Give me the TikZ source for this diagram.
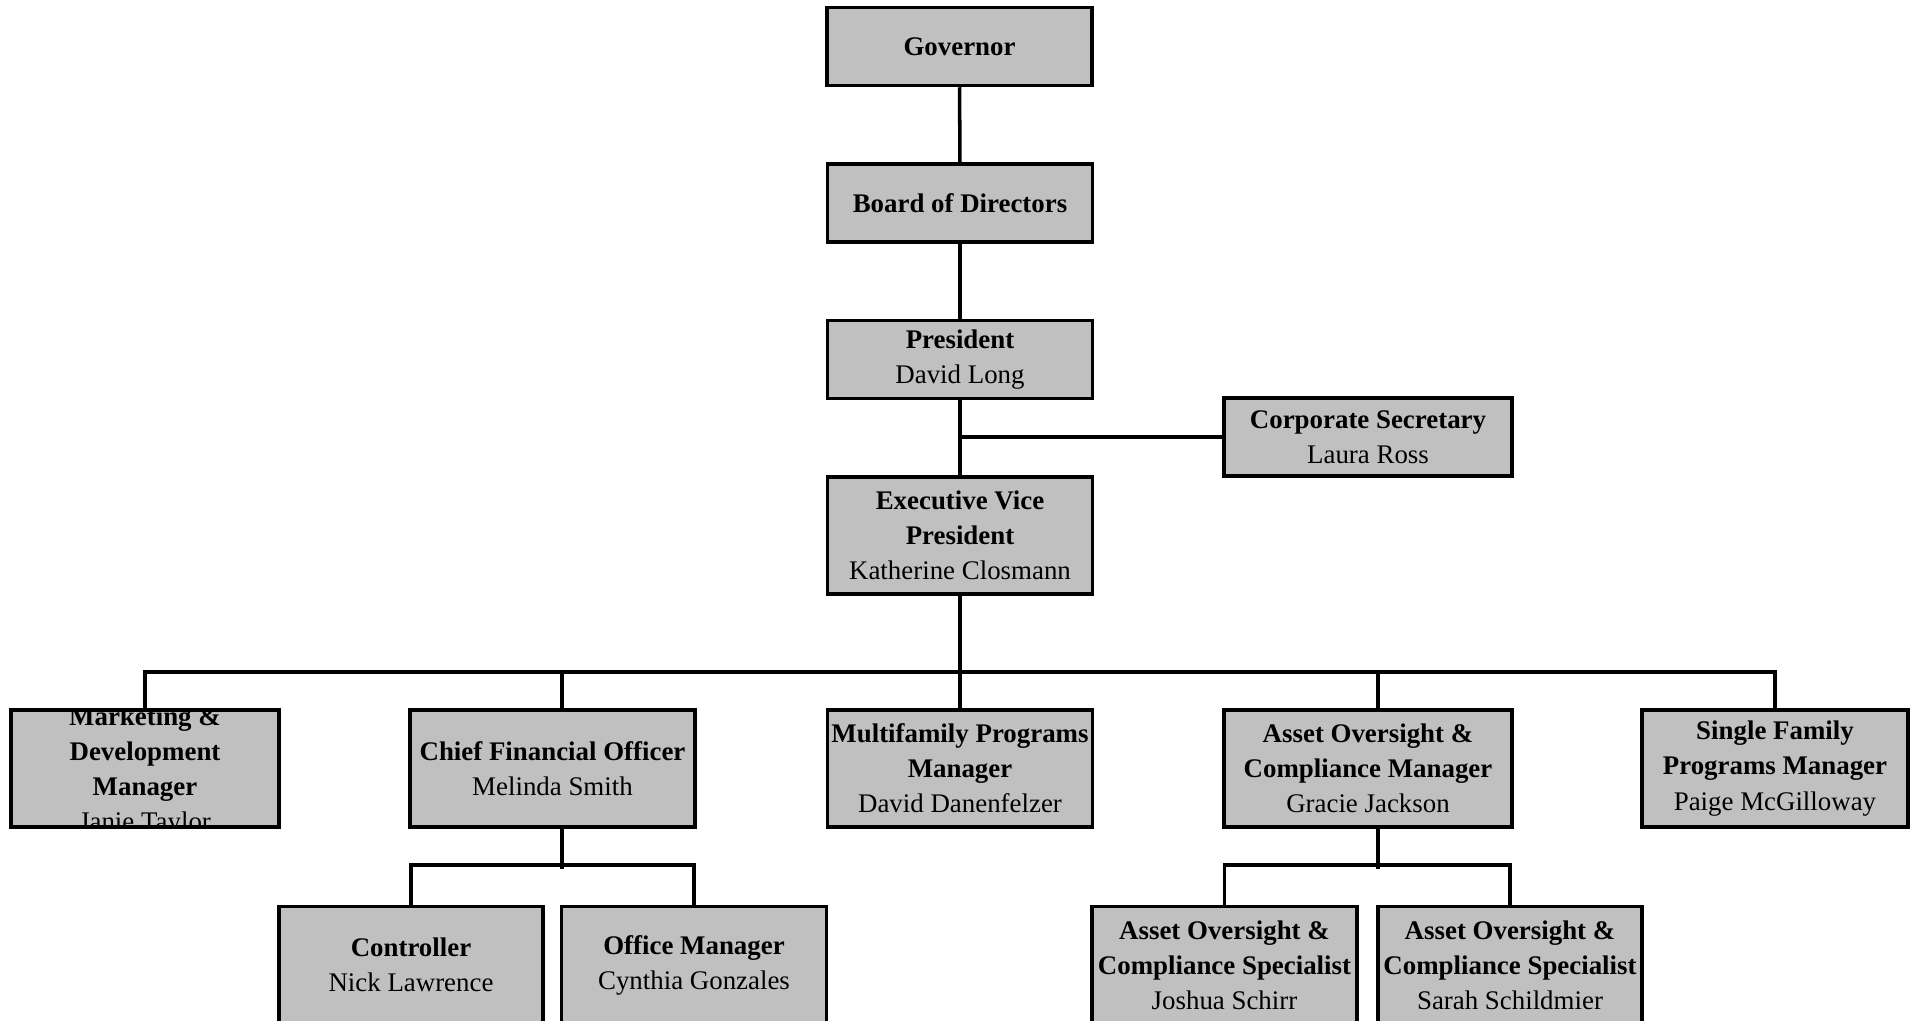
\documentclass[tikz,border=0pt]{standalone}
\usepackage{fontspec}
\setmainfont{Liberation Serif}
\usepackage{tikz}
\usetikzlibrary{calc}
\definecolor{BoxGray}{RGB}{192,192,192}
\tikzset{
    block/.style = {draw, rectangle, fill=BoxGray, line width=2pt,
        inner sep=0pt, align=center,
        font=\fontsize{15.3}{20}\selectfont,
        minimum height=1.56cm,
        minimum width=5.3cm},
    tall/.style = {minimum height=2.34cm},
    wide/.style = {minimum width=5.76cm},
    link/.style = {draw, line width=2pt}
}

\begin{document}
\begin{tikzpicture}[x=0.02cm,y=-0.02cm]
            \useasboundingbox (0,0) rectangle (1918,1021);
            % top chain
            \node[block] (gov) at (959.5,46.5) {\textbf{Governor}};
            \node[block] (board) at (960,203) {\textbf{Board of Directors}};
            \node[block] (pres) at (960,359.5) {\textbf{President}\\David Long};
            \node[block,wide] (sec) at (1368,437) {\textbf{Corporate Secretary}\\Laura Ross};
            \node[block,tall] (evp) at (960,535.5) {\textbf{Executive Vice}\\\textbf{President}\\Katherine Closmann};
            % managers
            \node[block,tall,minimum width=5.36cm] (mkt) at (145,768.5) {};
            \begin{scope}
            \clip (13,712) rectangle (277,825);
            \node[align=center,font=\fontsize{15.3}{20}\selectfont] at ($(mkt.center)+(0,3)$) {\textbf{Marketing \&}\\\textbf{Development}\\\textbf{Manager}\\Janie Taylor};
            \end{scope}
            \node[block,tall,minimum width=5.7cm] (cfo) at (552.5,768.5) {\textbf{Chief Financial Officer}\\Melinda Smith};
            \node[block,tall] (mf) at (960,768.5) {\textbf{Multifamily Programs}\\\textbf{Manager}\\David Danenfelzer};
            \node[block,tall,wide] (aoc) at (1368,768.5) {\textbf{Asset Oversight \&}\\\textbf{Compliance Manager}\\Gracie Jackson};
            \node[block,tall,minimum width=5.32cm] (sf) at (1775,768.5) {\textbf{Single Family}\\\textbf{Programs Manager}\\Paige McGilloway};
            % staff
            \node[block,tall,minimum width=5.28cm] (ctrl) at (411,965) {\textbf{Controller}\\Nick Lawrence};
            \node[block,tall] (ofc) at (694,965) {\textbf{Office Manager}\\Cynthia Gonzales};
            \node[block,tall] (sp1) at (1224.5,965) {\textbf{Asset Oversight \&}\\\textbf{Compliance Specialist}\\Joshua Schirr};
            \node[block,tall,minimum width=5.28cm] (sp2) at (1510,965) {\textbf{Asset Oversight \&}\\\textbf{Compliance Specialist}\\Sarah Schildmier};
            % connectors
            \coordinate (bus) at (960,672);
            \coordinate (cfoj) at (562,672);
            \coordinate (aocj) at (1378,672);
            \draw[link] (gov) -- (board);
            \draw[link] (board) -- (pres);
            \draw[link] (pres) -- (evp);
            \draw[link] (sec.west) -- (sec.west -| pres.south);
            \draw[link] (evp.south) -- (mf.north);
            \draw[link] (mkt.north) -- (mkt.north |- bus) -- (sf.north |- bus) -- (sf.north);
            \draw[link] (cfoj) -- (cfoj |- cfo.north);
            \draw[link] (aocj) -- (aocj |- aoc.north);
            \draw[link] (cfoj |- cfo.south) -- ($(cfoj |- cfo.south)+(0,40)$);
            \draw[link] (ctrl.north) -- ($(ctrl.north)+(0,-40)$) -- ($(ofc.north)+(0,-40)$) -- (ofc.north);
            \draw[link] (aocj |- aoc.south) -- ($(aocj |- aoc.south)+(0,40)$);
            \draw[link] (sp1.north) -- ($(sp1.north)+(0,-40)$) -- ($(sp2.north)+(0,-40)$) -- (sp2.north);
            \end{tikzpicture}
\end{document}
